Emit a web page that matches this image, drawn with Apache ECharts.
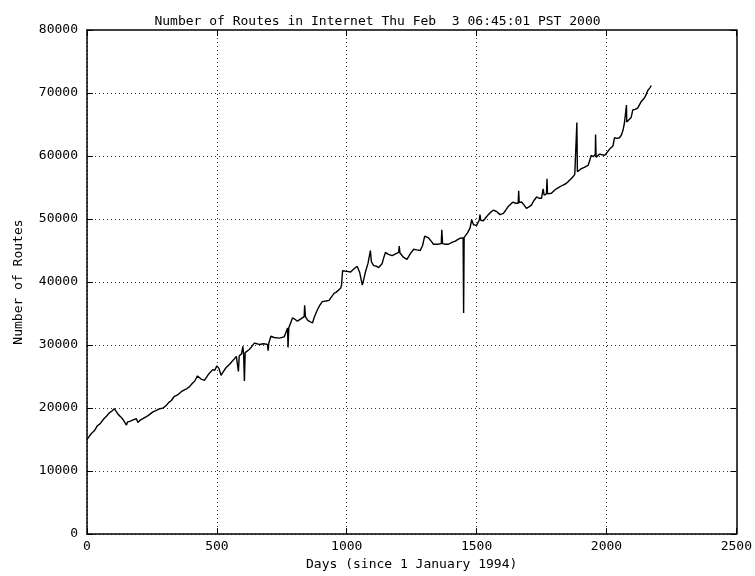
<!DOCTYPE html>
<html>
	<head>
		<meta charset="UTF-8">
		<title>Number of Routes</title>
		<script type="text/javascript" src="https://cdn.jsdelivr.net/npm/echarts@6/dist/echarts.min.js"></script>
		<style>body{margin:0;background:#fff;}</style>
	</head>
	<body>
		<div id="main" style="width: 755px;height: 576px;"></div>
		<script type="text/javascript">
// days since 1 January 1994, and route counts
var days = [0,10,20,30,40,50,56,65,75,85,95,105,110,120,130,140,152,156,165,175,190,196,205,222,235,254,265,280,292,305,
	315,325,335,345,355,363,375,385,395,405,415,420,425,430,440,452,465,475,484,492,500,508,516,525,535,542,550,558,567,575,
	580,583,586,595,600,603,606,609,616,625,635,644,655,663,680,695,697,700,708,720,740,759,765,772,774,777,785,791,800,810,
	817,825,836,838,841,850,855,868,875,887,896,906,920,932,942,951,960,976,980,984,989,1000,1015,1025,1040,1050,1060,1066,1072,1082,
	1091,1095,1104,1115,1123,1136,1142,1149,1160,1175,1190,1200,1202,1205,1219,1232,1245,1258,1270,1283,1292,1300,1315,1325,1334,1350,1364,1366,1369,1380,
	1392,1405,1418,1430,1440,1448,1450,1452,1456,1465,1475,1481,1488,1500,1510,1513,1516,1526,1535,1545,1555,1564,1577,1590,1603,1612,1622,1632,1641,1650,
	1660,1662,1664,1673,1683,1692,1700,1711,1720,1731,1740,1750,1756,1760,1769,1771,1773,1788,1798,1807,1820,1833,1843,1852,1862,1871,1878,1884,1886,1888,
	1903,1915,1929,1935,1941,1950,1957,1958,1960,1973,1983,1993,2003,2012,2025,2031,2040,2050,2057,2063,2069,2076,2077,2078,2082,2095,2101,2110,2120,2133,
	2146,2152,2159,2165,2169,2172];
var routes = [15000,15600,16100,16500,17200,17500,17600,18300,18700,19200,19500,19900,20100,19000,18600,18100,17300,17800,17900,18100,18300,17700,18100,18500,18800,19400,19600,19900,20000,20400,
	20900,21200,21800,22000,22300,22600,22900,23100,23400,23900,24300,24700,25100,24800,24600,24400,25200,25700,26100,26000,26700,26300,25200,25800,26400,26500,27000,27400,27800,28200,
	28300,25800,28300,28600,29800,28500,24300,28800,29100,29300,29800,30300,30200,30100,30200,30100,29100,30300,31400,31200,31100,31300,31900,32700,29600,32800,33600,34300,34100,33800,
	33700,34200,34500,36300,34500,33900,33700,33500,34400,35600,36300,36900,37000,37100,37700,38200,38400,39000,39500,41800,42000,41700,41600,42000,42500,41500,39500,40500,41600,43000,
	45000,43200,42600,42500,42300,42900,43800,44700,44400,44200,44500,44700,45700,44600,43900,43600,44500,45200,45100,45000,45800,47300,47000,46500,46000,46000,46100,48300,46100,46000,
	46000,46300,46500,46800,47000,47000,35100,47100,47300,47800,48600,49900,49100,49000,49800,50700,49800,49700,50200,50700,51100,51400,51200,50700,50900,51400,52000,52400,52700,52500,
	52500,54500,52600,52700,52200,51700,51900,52200,52900,53500,53300,53300,54800,53800,54000,56400,54000,54100,54500,54800,55100,55400,55600,55900,56300,56700,57100,57400,65300,57500,
	58000,58200,58500,59200,60100,59900,60300,63400,59800,60300,60200,60100,60600,61100,61600,62900,62800,62900,63300,64000,65200,65300,68100,65400,65500,66100,67300,67400,67600,68600,
	69200,69700,70400,70600,70900,71200];

var xTicks = [0, 500, 1000, 1500, 2000, 2500];
var yTicks = [0, 10000, 20000, 30000, 40000, 50000, 60000, 70000, 80000];

var points = [];
for (var i = 0; i < days.length; i++) {
	points.push([days[i], routes[i]]);
}

var font = 'DejaVu Sans Mono';
var gridDots = { show: true, showMaxLine: false, lineStyle: { color: '#333', width: 1, type: [1, 3] } };
var plain = function (v) { return String(v); };
var frame = { show: true, onZero: false, lineStyle: { color: '#000', width: 1.5 } };
var ticksIn = { show: true, inside: true, length: 6, lineStyle: { color: '#000' } };

var myChart = echarts.init(document.getElementById('main'));
myChart.setOption({
	animation: false,
	backgroundColor: '#fff',
	title: {
		text: 'Number of Routes in Internet Thu Feb  3 06:45:01 PST 2000',
		left: 'center',
		top: 10,
		textStyle: { fontFamily: font, fontSize: 13, fontWeight: 'normal', color: '#000' }
	},
	grid: { left: 87, right: 17, top: 30, bottom: 35 },
	xAxis: [{
		type: 'value',
		min: xTicks[0], max: xTicks[xTicks.length - 1], interval: 500,
		name: 'Days (since 1 January 1994)',
		nameLocation: 'middle', nameGap: 22,
		nameTextStyle: { fontFamily: font, fontSize: 13, color: '#000' },
		axisLine: frame,
		axisTick: ticksIn,
		axisLabel: { fontFamily: font, fontSize: 13, color: '#000', margin: 6, formatter: plain },
		splitLine: gridDots
	}, {
		type: 'value', position: 'top',
		min: 0, max: 2500, interval: 500,
		axisLine: frame,
		axisTick: ticksIn,
		axisLabel: { show: false },
		splitLine: { show: false }
	}],
	yAxis: [{
		type: 'value',
		min: yTicks[0], max: yTicks[yTicks.length - 1], interval: 10000,
		name: 'Number of Routes',
		nameLocation: 'middle', nameGap: 62, nameRotate: 90,
		nameTextStyle: { fontFamily: font, fontSize: 13, color: '#000' },
		axisLine: frame,
		axisTick: ticksIn,
		axisLabel: { fontFamily: font, fontSize: 13, color: '#000', margin: 9, formatter: plain },
		splitLine: gridDots
	}, {
		type: 'value', position: 'right',
		min: 0, max: 80000, interval: 10000,
		axisLine: frame,
		axisTick: ticksIn,
		axisLabel: { show: false },
		splitLine: { show: false }
	}],
	series: [{
		name: 'routes',
		type: 'line',
		showSymbol: false,
		symbol: 'none',
		lineStyle: { color: '#000', width: 1.4 },
		data: points
	}]
});
		</script>
	</body>
</html>
